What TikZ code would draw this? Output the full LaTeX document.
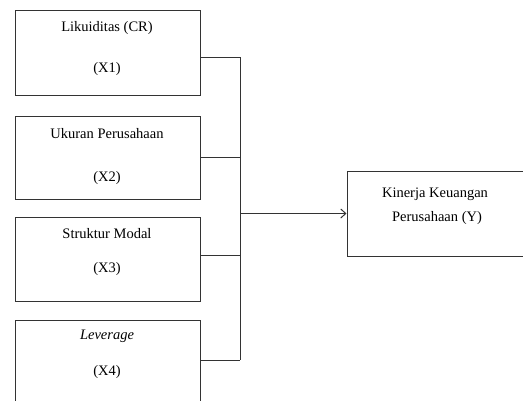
\documentclass[tikz,border=0pt]{standalone}
\usepackage{fontspec}
\setmainfont{Liberation Serif}
\usetikzlibrary{arrows.meta}
\begin{document}
\begin{tikzpicture}[x=1pt,y=-1pt,
  box/.style={draw=black!80,line width=1pt,minimum width=185pt,inner sep=0pt},
  lbl/.style={font=\fontsize{14.5}{17}\selectfont,inner sep=0pt,anchor=center},
  conn/.style={draw=black!80,line width=1pt}]
\useasboundingbox (0,0) rectangle (523,400);
\clip (0,0) rectangle (523,400);
\node[box,minimum height=85pt] (b1) at (107.5,53) {};
\node[box,minimum height=83pt] (b2) at (107.5,157.5) {};
\node[box,minimum height=84pt] (b3) at (107.5,259) {};
\node[box,minimum height=85pt] (b4) at (107.5,362.5) {};
\node[box,minimum width=190pt,minimum height=85pt] (y) at (442,213.5) {};
\node[lbl] (t1a) at (107,28) {Likuiditas (CR)};
\node[lbl] (t1b) at (107,69) {(X1)};
\node[lbl] (t2a) at (107,134) {Ukuran Perusahaan};
\node[lbl] (t2b) at (107,178) {(X2)};
\node[lbl] (t3a) at (107,234) {Struktur Modal};
\node[lbl] (t3b) at (107,269) {(X3)};
\node[lbl] (t4a) at (107,336) {\itshape Leverage};
\node[lbl] (t4b) at (107,372) {(X4)};
\node[lbl] (ya) at (435,194) {Kinerja Keuangan};
\node[lbl] (yb) at (437,218) {Perusahaan (Y)};
\coordinate (j1) at (240,57);
\coordinate (j4) at (240,360);
\coordinate (jm) at (240,213.5);
\draw[conn] ([yshift=-4pt]b1.east) -- (j1) -- (j4);
\draw[conn] (b2.east) -- (b2.east -| jm);
\draw[conn] ([yshift=4pt]b3.east) -- ([yshift=4pt]b3.east -| jm);
\draw[conn] ([yshift=2.5pt]b4.east) -- (j4);
\draw[conn,-{Straight Barb[length=5pt,width=9pt]}] (jm) -- (y.west);
\end{tikzpicture}
\end{document}
